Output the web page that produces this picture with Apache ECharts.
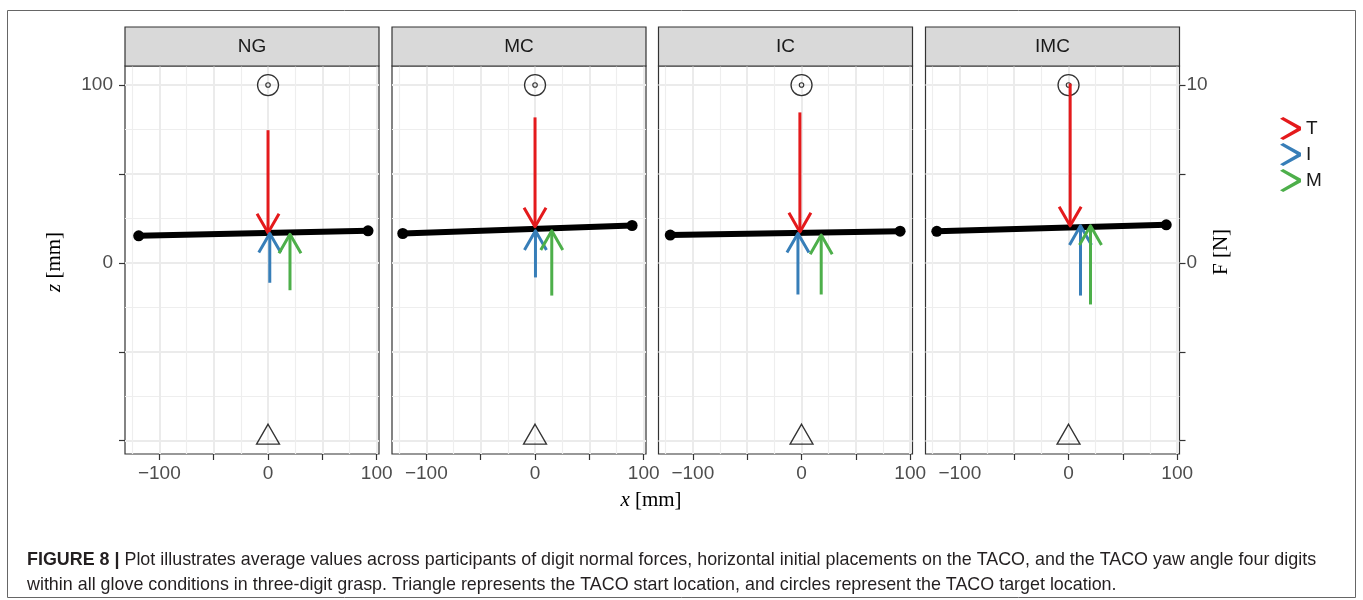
<!DOCTYPE html>
<html>
<head>
<meta charset="utf-8">
<script src="https://cdn.jsdelivr.net/npm/echarts@6/dist/echarts.min.js"></script>
<style>
  html, body { margin: 0; padding: 0; background: #fff; }
  #chart { width: 1363px; height: 600px; }
</style>
</head>
<body>
<div id="chart"></div>
<script>
// ---------------- data ----------------
const panels = ['NG', 'MC', 'IC', 'IMC'];

// TACO object line (black), endpoints per panel [mm]
const lineX0 = [-119, -121.7, -120.8, -121.2];
const lineZ0 = [15.2, 16.5, 15.6, 17.7];
const lineX1 = [92, 89.3, 90.7, 89.9];
const lineZ1 = [18.0, 21.0, 17.8, 21.4];

// Thumb (T): placement x [mm], contact z [mm], normal force [N]
const thumbX = [0, 0, -1.5, 1.5];
const thumbZ = [16.9, 20.3, 17.4, 20.8];
const thumbF = [5.77, 6.15, 6.72, 8.0];

// Index (I)
const indexX = [1.6, 0.4, -3.3, 11];
const indexZ = [16.5, 18.0, 16.5, 20.8];
const indexF = [2.77, 2.62, 3.43, 3.92];

// Middle (M)
const middleX = [20.2, 15.4, 18.1, 20.2];
const middleZ = [16.1, 18.0, 15.6, 20.8];
const middleF = [3.15, 3.64, 3.34, 4.42];

// target (circle) and start (triangle) location [x, z]
const targetLoc = [0, 100];
const startLoc = [0, -97.5];

// axis tick labels
const xTickValues = [-100, -50, 0, 50, 100];
const xLabelValues = [-100, 0, 100];
const zTickValues = [-100, -50, 0, 50, 100];
const zLabelValues = [0, 100];
const fTickValues = [-10, -5, 0, 5, 10];
const fLabelValues = [0, 10];

const digitNames = ['T', 'I', 'M'];
const digitColors = ['#E41A1C', '#377EB8', '#4DAF4A'];

// ---------------- layout / style ----------------
const MM_PER_N = 10;          // secondary axis: 10 N == 100 mm
const xMin = -131.6, xMax = 102.1;
const zMin = -107.5, zMax = 110.7;
const panelLeft = [125, 392, 658.5, 925.5];
const panelW = 254, panelTop = 66, panelH = 388;
const stripTop = 27, stripH = 39;
const SANS = '"Liberation Sans", Arial, Helvetica, sans-serif';
const SERIF = '"Liberation Serif", "DejaVu Serif", serif';
const digitDir = [1, -1, -1];  // T pushes from above, I and M from below

const chart = echarts.init(document.getElementById('chart'), null, { renderer: 'canvas' });

const grids = [], xAxes = [], yAxes = [], series = [], graphics = [];

function minus(v) { return String(v).replace('-', '\u2212'); }

function arrowRender(color, dir) {
  return function (params, api) {
    const x = api.value(0), zt = api.value(1), f = api.value(2);
    const tip = api.coord([x, zt]);
    const tail = api.coord([x, zt + dir * f * MM_PER_N]);
    const dx = tip[0] - tail[0], dy = tip[1] - tail[1];
    const len = Math.hypot(dx, dy) || 1;
    const bx = -dx / len, by = -dy / len;
    const L = 22, a = Math.PI / 6;
    const c = Math.cos(a), s = Math.sin(a);
    const a1 = [tip[0] + L * (bx * c - by * s), tip[1] + L * (bx * s + by * c)];
    const a2 = [tip[0] + L * (bx * c + by * s), tip[1] + L * (-bx * s + by * c)];
    return {
      type: 'group',
      children: [
        { type: 'line', shape: { x1: tail[0], y1: tail[1], x2: tip[0], y2: tip[1] },
          style: { stroke: color, lineWidth: 3, lineCap: 'butt' } },
        { type: 'polyline', shape: { points: [a1, tip, a2] },
          style: { stroke: color, lineWidth: 3, fill: null, lineJoin: 'round', lineCap: 'butt' } }
      ]
    };
  };
}

panels.forEach(function (name, i) {
  grids.push({
    left: panelLeft[i], top: panelTop, width: panelW, height: panelH,
    show: true, backgroundColor: '#fff', borderColor: '#333', borderWidth: 1.2, z: 0
  });
  xAxes.push({
    type: 'value', gridIndex: i, min: xMin, max: xMax, position: 'bottom',
    minInterval: 50, maxInterval: 50,
    axisLine: { show: false, onZero: false },
    axisTick: { show: true, inside: false, customValues: xTickValues, length: 6, lineStyle: { color: '#333', width: 1.2 } },
    axisLabel: { show: true, customValues: xLabelValues, formatter: minus, margin: 10,
      fontSize: 19, color: '#4D4D4D', fontFamily: SANS },
    splitLine: { show: true, lineStyle: { color: '#EBEBEB', width: 2 } },
    minorTick: { show: false, splitNumber: 2 },
    minorSplitLine: { show: true, lineStyle: { color: '#EEEEEE', width: 1.2 } }
  });
  yAxes.push({
    type: 'value', gridIndex: i, min: zMin, max: zMax, position: 'left',
    minInterval: 50, maxInterval: 50,
    axisLine: { show: false, onZero: false },
    axisTick: { show: i === 0, inside: false, customValues: zTickValues, length: 6, lineStyle: { color: '#333', width: 1.2 } },
    axisLabel: { show: i === 0, customValues: zLabelValues, formatter: minus, margin: 12,
      fontSize: 19, color: '#4D4D4D', fontFamily: SANS },
    splitLine: { show: true, lineStyle: { color: '#EBEBEB', width: 2 } },
    minorTick: { show: false, splitNumber: 2 },
    minorSplitLine: { show: true, lineStyle: { color: '#EEEEEE', width: 1.2 } }
  });

  // strip header
  graphics.push({
    type: 'rect', shape: { x: panelLeft[i], y: stripTop, width: panelW, height: stripH },
    style: { fill: '#D9D9D9', stroke: '#333', lineWidth: 1.2 }, z: 10
  });
  graphics.push({
    type: 'text', x: panelLeft[i] + panelW / 2, y: stripTop + stripH / 2,
    style: { text: name, fill: '#1A1A1A', font: '19px ' + SANS, textAlign: 'center', textVerticalAlign: 'middle' }, z: 11
  });

  // TACO line
  series.push({
    type: 'line', xAxisIndex: i, yAxisIndex: i, z: 3,
    data: [[lineX0[i], lineZ0[i]], [lineX1[i], lineZ1[i]]],
    symbol: 'circle', symbolSize: 11, showSymbol: true,
    lineStyle: { color: '#000', width: 6 }, itemStyle: { color: '#000' },
    silent: true
  });
  // target circle (outer + inner)
  series.push({
    type: 'scatter', xAxisIndex: i, yAxisIndex: i, z: 2, silent: true,
    data: [targetLoc], symbol: 'circle', symbolSize: 21,
    itemStyle: { color: 'rgba(0,0,0,0)', borderColor: '#000', borderWidth: 1.3 }
  });
  series.push({
    type: 'scatter', xAxisIndex: i, yAxisIndex: i, z: 2, silent: true,
    data: [targetLoc], symbol: 'circle', symbolSize: 4.5,
    itemStyle: { color: 'rgba(0,0,0,0)', borderColor: '#000', borderWidth: 1.1 }
  });
  // start triangle
  series.push({
    type: 'scatter', xAxisIndex: i, yAxisIndex: i, z: 2, silent: true,
    data: [startLoc], symbol: 'triangle', symbolSize: [23, 20], symbolOffset: [0, -2],
    itemStyle: { color: 'rgba(0,0,0,0)', borderColor: '#000', borderWidth: 1.3 }
  });
  // force arrows
  const dx = [thumbX, indexX, middleX], dz = [thumbZ, indexZ, middleZ], df = [thumbF, indexF, middleF];
  for (let d = 0; d < 3; d++) {
    series.push({
      type: 'custom', name: digitNames[d], xAxisIndex: i, yAxisIndex: i, z: 5, silent: true,
      itemStyle: { color: digitColors[d] },
      data: [[dx[d][i], dz[d][i], df[d][i]]],
      renderItem: arrowRender(digitColors[d], digitDir[d])
    });
  }
});

// secondary axis F [N] on the last panel
yAxes.push({
  type: 'value', gridIndex: 3, position: 'right',
  min: zMin / MM_PER_N, max: zMax / MM_PER_N, minInterval: 5, maxInterval: 5,
  axisLine: { show: false, onZero: false },
  axisTick: { show: true, inside: false, customValues: fTickValues, length: 6, lineStyle: { color: '#333', width: 1.2 } },
  axisLabel: { show: true, customValues: fLabelValues, formatter: minus, margin: 7,
    fontSize: 19, color: '#4D4D4D', fontFamily: SANS },
  splitLine: { show: false }
});

// axis titles
graphics.push({
  type: 'text', x: 54, y: 262, rotation: Math.PI / 2,
  style: { text: '{i|z} [mm]', font: '21px ' + SERIF, fill: '#000', textAlign: 'center', textVerticalAlign: 'middle',
    rich: { i: { fontStyle: 'italic', fontFamily: SERIF, fontSize: 21 } } }
});
graphics.push({
  type: 'text', x: 1221, y: 252, rotation: Math.PI / 2,
  style: { text: 'F [N]', font: '21px ' + SERIF, fill: '#000', textAlign: 'center', textVerticalAlign: 'middle' }
});
graphics.push({
  type: 'text', x: 651, y: 500,
  style: { text: '{i|x} [mm]', font: '21px ' + SERIF, fill: '#000', textAlign: 'center', textVerticalAlign: 'middle',
    rich: { i: { fontStyle: 'italic', fontFamily: SERIF, fontSize: 21 } } }
});
// figure frame
graphics.push({
  type: 'rect', shape: { x: 7.5, y: 10.5, width: 1348, height: 587 },
  style: { fill: null, stroke: '#666', lineWidth: 1 }, z: -1
});

const option = {
  animation: false,
  backgroundColor: '#fff',
  grid: grids,
  xAxis: xAxes,
  yAxis: yAxes,
  legend: {
    data: digitNames, orient: 'vertical', left: 1280, top: 117,
    icon: 'path://M0,1.8L3.2,0L21,9.8L21,13.2L3.2,23L0,21.2L16.8,11.5Z',
    itemWidth: 21, itemHeight: 23, itemGap: 3, padding: 0, selectedMode: false,
    textStyle: { fontSize: 19, color: '#1A1A1A', fontFamily: SANS, padding: [0, 0, 0, 0] }
  },
  title: {
    left: 22, top: 543,
    text: '{b|FIGURE 8 |} Plot illustrates average values across participants of digit normal forces, horizontal initial placements on the TACO, and the TACO yaw angle four digits\nwithin all glove conditions in three-digit grasp. Triangle represents the TACO start location, and circles represent the TACO target location.',
    textStyle: {
      fontSize: 17.9, fontWeight: 'normal', color: '#231F20', fontFamily: SANS, lineHeight: 25,
      rich: { b: { fontWeight: 'bold', fontSize: 17.9, color: '#231F20', fontFamily: SANS, lineHeight: 25 } }
    }
  },
  graphic: graphics,
  series: series
};
chart.setOption(option);
</script>
</body>
</html>
